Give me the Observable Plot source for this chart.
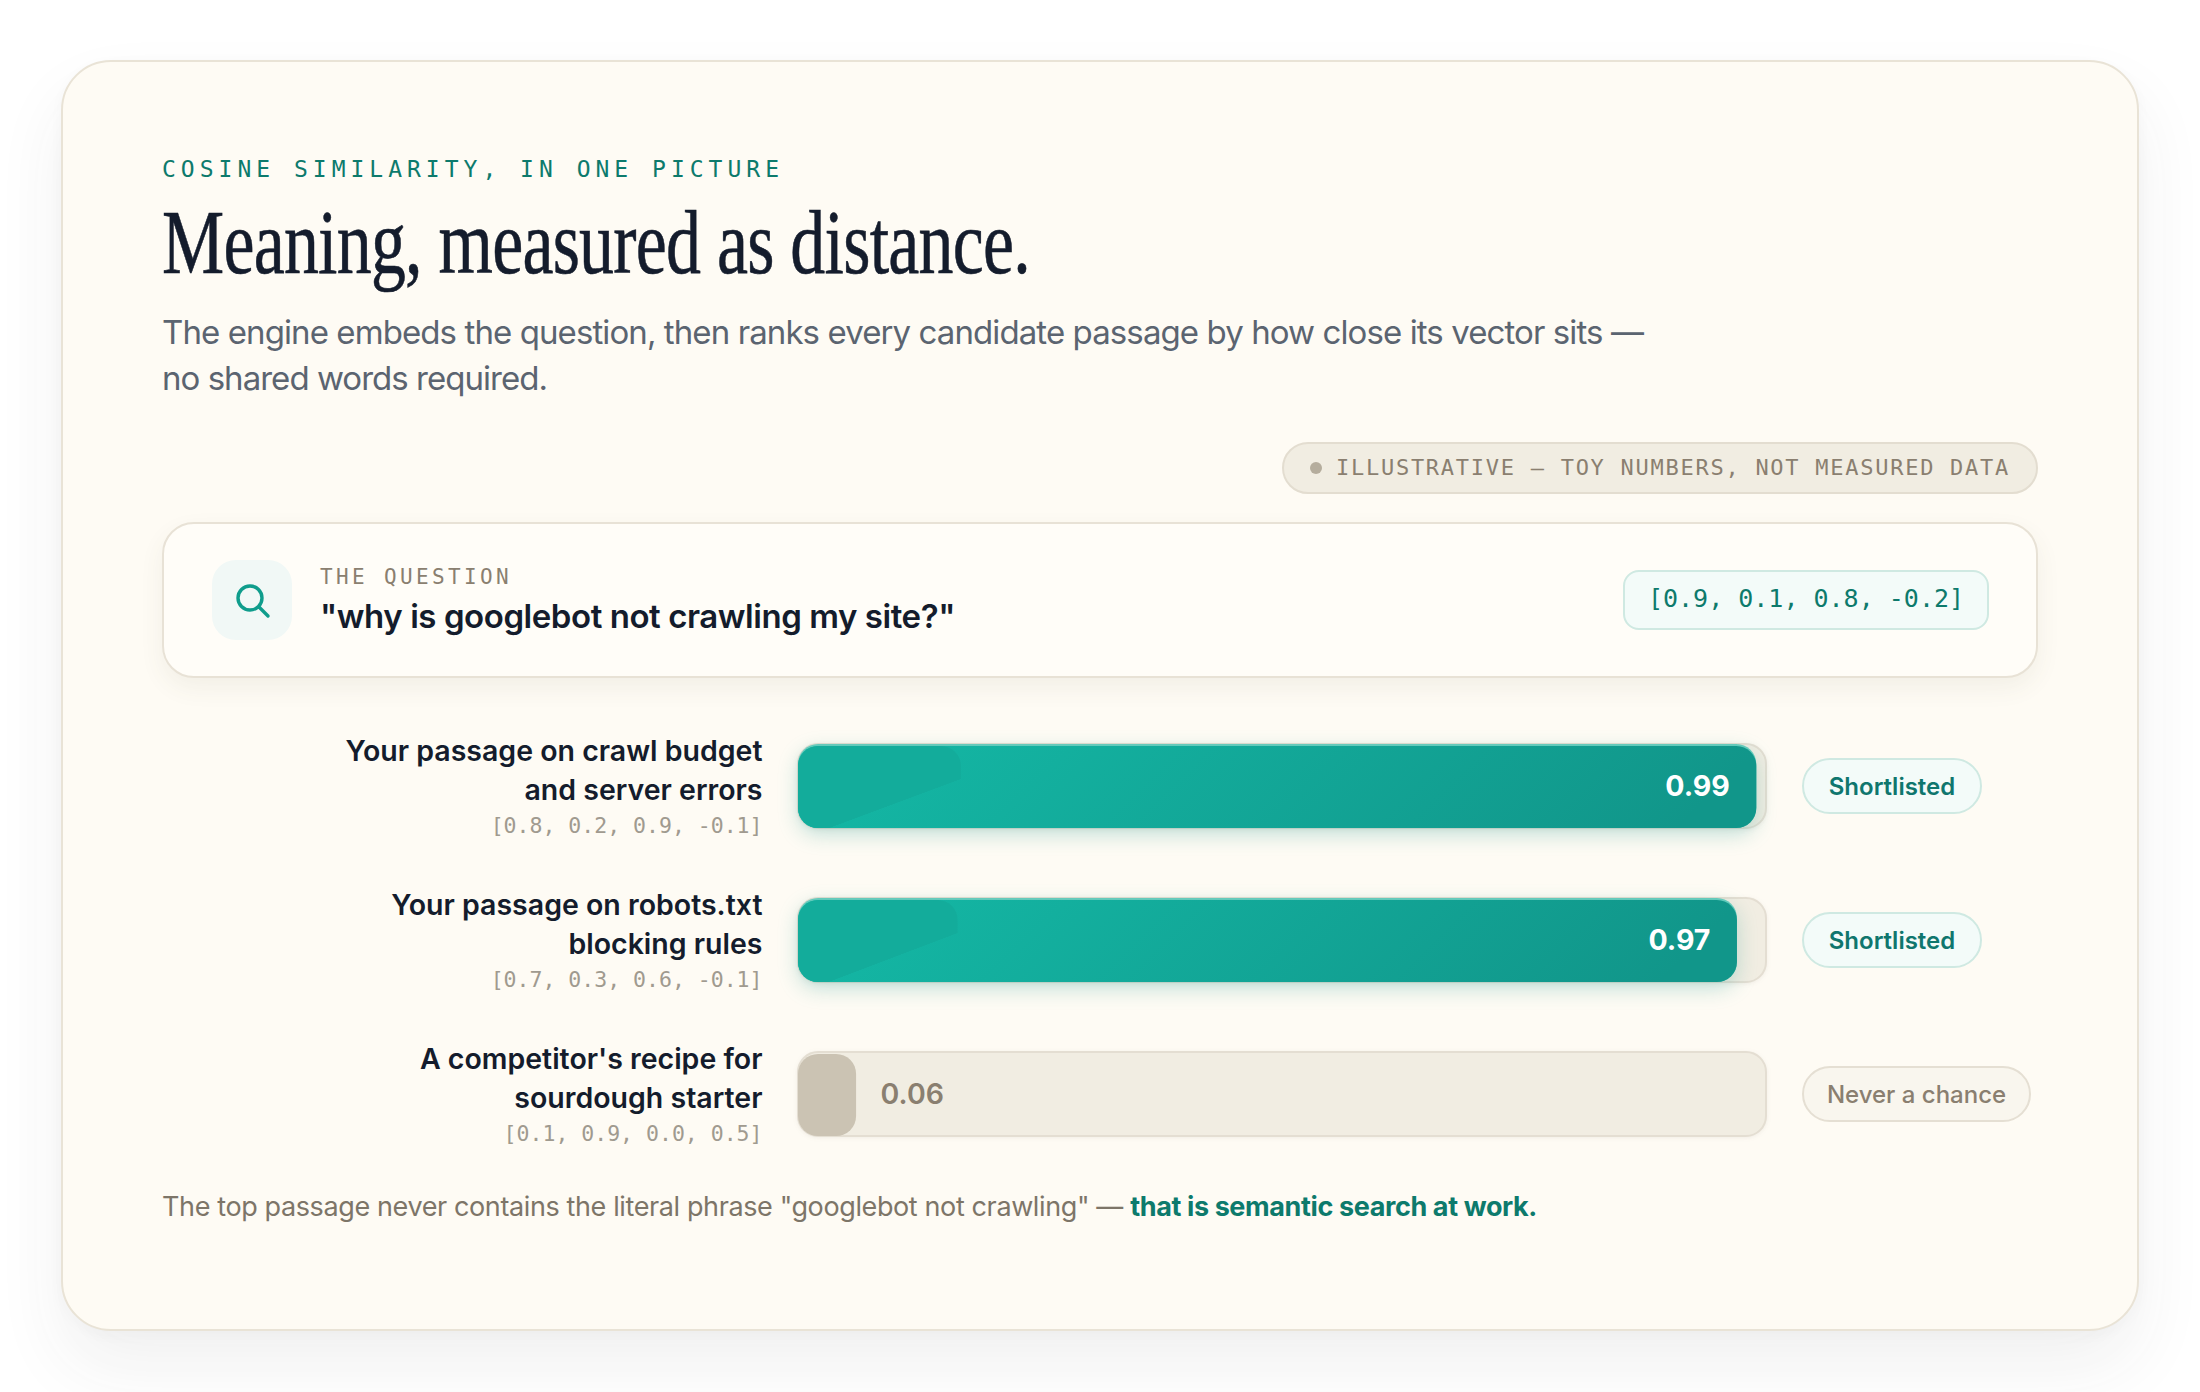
<!DOCTYPE html>
<html><head><meta charset="utf-8">
<script src="https://cdn.jsdelivr.net/npm/d3@7"></script>
<script src="https://cdn.jsdelivr.net/npm/@observablehq/plot@0.6"></script>
<style>
html,body{margin:0;background:#fff;width:2200px;height:1392px;overflow:hidden}
*{box-sizing:border-box}
#card{position:absolute;left:61px;top:60px;width:2078px;height:1271px;background:#fefbf4;border:2px solid #e9e3d6;border-radius:50px;box-shadow:0 36px 70px rgba(60,60,50,.07),0 4px 14px rgba(60,60,50,.03)}
.a{position:absolute;white-space:nowrap;line-height:1}
#eyebrow{left:162px;top:158px;font-size:23px;color:#0d7a6c;font-family:"DejaVu Sans Mono",monospace}
#title{left:162px;top:196px;font-family:"Liberation Serif",serif;font-size:92px;color:#141c2c;transform-origin:0 0;-webkit-text-stroke:.6px #141c2c}
.sub{left:162px;font-size:33px;color:#5b6470;font-family:Inter,sans-serif}
#badge{left:1282px;top:442px;width:756px;height:52px;background:#f1ede2;border:2px solid #e3ddd0;border-radius:26px}
#dot{left:1310px;top:462px;width:12px;height:12px;border-radius:50%;background:#b5ad9d}
#badgeText{left:1336px;top:457px;font-size:22px;color:#8a7f70;font-family:"DejaVu Sans Mono",monospace}
#panel{left:162px;top:522px;width:1876px;height:156px;background:#fffdf8;border:2px solid #e8e2d6;border-radius:32px;box-shadow:0 10px 24px rgba(90,80,60,.07)}
#icon{left:212px;top:560px;width:80px;height:80px;border-radius:24px;background:#f1f8f6}
#qLabel{left:320px;top:567px;font-size:21px;color:#8a7f70;font-family:"DejaVu Sans Mono",monospace}
#qText{left:320px;top:600px;font-size:33px;font-weight:600;color:#141c2c;font-family:Inter,sans-serif}
#chip{left:1623px;top:570px;width:366px;height:60px;background:#f3fbf9;border:2px solid #cfe9e2;border-radius:16px}
#chipText{left:1623px;top:570px;width:366px;height:60px;text-align:center;line-height:58px;font-size:25px;color:#0d7a6c;font-family:"DejaVu Sans Mono",monospace}
#chart{position:absolute;left:0;top:720px;width:2200px;height:440px}
.pill{position:absolute;left:1802px;height:56px;border-radius:28px;border:2px solid;display:flex;align-items:center;justify-content:center;font-family:Inter,sans-serif;font-size:24px;white-space:nowrap}
#foot{left:162px;top:1193px;font-size:27px;color:#7d7568;font-family:Inter,sans-serif}
#foot b{color:#0d7a6c;font-weight:700}
</style></head><body>
<div id="card"></div>
<div class="a" id="eyebrow"></div>
<div class="a" id="title"></div>
<div class="a sub" id="sub1" style="top:316px"></div>
<div class="a sub" id="sub2" style="top:362px"></div>
<div class="a" id="badge"></div><div class="a" id="dot"></div><div class="a" id="badgeText"></div>
<div class="a" id="panel"></div>
<div class="a" id="icon"><svg width="80" height="80" viewBox="0 0 80 80" fill="none" stroke="#0f9d8c" stroke-width="3.4" stroke-linecap="round"><circle cx="38" cy="38" r="12"/><path d="M47 47l9 9"/></svg></div>
<div class="a" id="qLabel"></div><div class="a" id="qText"></div>
<div class="a" id="chip"></div><div class="a" id="chipText"></div>
<div id="chart"></div>
<div class="a" id="foot"></div>
<script>
// ---- content ----
const eyebrow = "COSINE SIMILARITY, IN ONE PICTURE";
const title = "Meaning, measured as distance.";
const subtitleLines = ["The engine embeds the question, then ranks every candidate passage by how close its vector sits —", "no shared words required."];
const badge = "ILLUSTRATIVE — TOY NUMBERS, NOT MEASURED DATA";
const questionLabel = "THE QUESTION";
const question = "\"why is googlebot not crawling my site?\"";
const questionVector = "[0.9, 0.1, 0.8, -0.2]";
const passages = ["Your passage on crawl budget\nand server errors", "Your passage on robots.txt\nblocking rules", "A competitor's recipe for\nsourdough starter"];
const vectors = ["[0.8, 0.2, 0.9, -0.1]", "[0.7, 0.3, 0.6, -0.1]", "[0.1, 0.9, 0.0, 0.5]"];
const scores = [0.99, 0.97, 0.06];
const verdicts = ["Shortlisted", "Shortlisted", "Never a chance"];
const footPlain = "The top passage never contains the literal phrase \"googlebot not crawling\" — ";
const footBold = "that is semantic search at work.";

const $ = id => document.getElementById(id);
$("eyebrow").textContent = eyebrow;
$("title").textContent = title;
$("sub1").textContent = subtitleLines[0];
$("sub2").textContent = subtitleLines[1];
$("badgeText").textContent = badge;
$("qLabel").textContent = questionLabel;
$("qText").textContent = question;
$("chipText").textContent = questionVector;
$("foot").innerHTML = footPlain.replace(/"/g,"&quot;") + "<b>" + footBold + "</b>";

const rows = passages.map((name, i) => ({name, vector: vectors[i], score: scores[i], verdict: verdicts[i], near: scores[i] > 0.5}));
const high = rows.filter(d => d.near), low = rows.filter(d => !d.near);
const sans = "Inter, sans-serif", mono = "'DejaVu Sans Mono', monospace";
const fmt = d => d.score.toFixed(2);

const chart = Plot.plot({
  width: 2200, height: 440,
  marginLeft: 798, marginRight: 434, marginTop: 24, marginBottom: 24,
  style: {background: "transparent", overflow: "visible"},
  x: {domain: [0, 1], axis: null},
  y: {domain: passages, axis: null, paddingInner: 70 / 154, paddingOuter: 0},
  marks: [
    Plot.barX(rows, {x1: () => 0, x2: () => 1, y: "name", fill: "#f1ede2", stroke: "#e4ded2", strokeWidth: 2, rx: 20}),
    Plot.barX(high, {x1: () => 0, x2: "score", y: "name", fill: "#63cabb", rx: 20}),
    Plot.barX(high, {x1: () => 0, x2: "score", y: "name", fill: "url(#tealFill)", insetTop: 2, rx: 20}),
    Plot.barX(high, {x1: () => 0, x2: d => d.score * 0.17, y: "name", fill: "url(#sheen)", insetTop: 2, rx: 20}),
    Plot.barX(low, {x1: () => 0, x2: "score", y: "name", fill: "#cbc3b3", insetTop: 2, rx: 20}),
    Plot.text(rows, {x: () => 0, y: "name", text: "name", dx: -36, dy: -18.5, textAnchor: "end", lineHeight: 1.36, fontFamily: sans, fontSize: 28.5, fontWeight: 600, fill: "#141c2c"}),
    Plot.text(rows, {x: () => 0, y: "name", text: "vector", dx: -36, dy: 40, textAnchor: "end", fontFamily: mono, fontSize: 21.5, fill: "#a09a8f"}),
    Plot.text(high, {x: "score", y: "name", text: fmt, dx: -27, textAnchor: "end", fontFamily: sans, fontSize: 28.5, fontWeight: 700, fill: "#ffffff"}),
    Plot.text(low, {x: "score", y: "name", text: fmt, dx: 24, textAnchor: "start", fontFamily: sans, fontSize: 28.5, fontWeight: 600, fill: "#8a7f70"})
  ]
});
chart.insertAdjacentHTML("afterbegin", `<defs>
  <linearGradient id="tealFill" x1="0" y1="0" x2="1" y2="0.09"><stop offset="0" stop-color="#14b9a6"/><stop offset="1" stop-color="#11968a"/></linearGradient>
  <linearGradient id="sheen" x1="0" y1="0" x2="0.547" y2="0.74"><stop offset="0" stop-color="#13ac9b"/><stop offset="0.995" stop-color="#13ac9b"/><stop offset="1" stop-color="#13ac9b" stop-opacity="0"/></linearGradient>
</defs>`);
const barGroups = chart.querySelectorAll('g[aria-label="bar"]');
barGroups[0].style.filter = "drop-shadow(0 1px 2px rgba(90,80,60,.08))";
barGroups[1].style.filter = "drop-shadow(0 7px 10px rgba(13,148,136,.24))";
$("chart").append(chart);

// verdict pills, one per row, centred on the same band scale
const yScale = chart.scale("y");
rows.forEach(d => {
  const p = document.createElement("div");
  p.className = "pill";
  p.textContent = d.verdict;
  const cy = 720 + yScale.apply(d.name) + yScale.bandwidth / 2;
  p.style.top = (cy - 28) + "px";
  p.style.width = d.near ? "180px" : "229px";
  p.style.background = d.near ? "#f3fbf9" : "#f9f6ee";
  p.style.borderColor = d.near ? "#cfe9e2" : "#e5dfd3";
  p.style.color = d.near ? "#0f766e" : "#8a7f70";
  p.style.fontWeight = d.near ? 600 : 500;
  document.body.append(p);
});

// match the measured line widths of the design with the installed fonts
function track(el, target) {
  const w = el.getBoundingClientRect().width, n = el.textContent.length;
  el.style.letterSpacing = ((target - w) / n) + "px";
}
track($("eyebrow"), 622);
track($("sub1"), 1481);
track($("sub2"), 385);
track($("badgeText"), 674);
track($("qLabel"), 192);
track($("qText"), 635);
$("title").style.letterSpacing = "-1px";
const tw2 = $("title").getBoundingClientRect().width;
$("title").style.transform = `scaleX(${868 / tw2})`;
track($("foot"), 1375);
</script>
</body></html>
